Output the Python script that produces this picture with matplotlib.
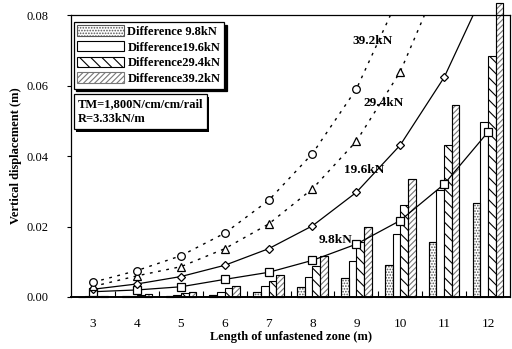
import numpy as np
import matplotlib
matplotlib.use("Agg")
import matplotlib.pyplot as plt
import matplotlib.patheffects as pe

plt.rcParams['font.family'] = ['Liberation Serif', 'DejaVu Serif']
plt.rcParams['hatch.linewidth'] = 0.8

# Datos
longitudes = [3, 4, 5, 6, 7, 8, 9, 10, 11, 12]
etiquetas_barras = ["Difference 9.8kN", "Difference19.6kN", "Difference29.4kN", "Difference39.2kN"]
dif_98 = [0.0001, 0.0002, 0.0003, 0.0006, 0.0015, 0.0029, 0.0053, 0.0091, 0.0157, 0.0267]
dif_196 = [0.0002, 0.0004, 0.0006, 0.0013, 0.0032, 0.0058, 0.0102, 0.0178, 0.0303, 0.0496]
dif_294 = [0.0003, 0.0006, 0.0010, 0.0025, 0.0046, 0.0088, 0.0157, 0.0262, 0.0431, 0.0684]
dif_392 = [0.0004, 0.0008, 0.0013, 0.0032, 0.0062, 0.0117, 0.0200, 0.0336, 0.0546, 0.0835]

# Curvas de desplazamiento (valores fuera del rango se recortan)
desp_98 = [0.0015, 0.0020, 0.0029, 0.0050, 0.0070, 0.0104, 0.0150, 0.0217, 0.0320, 0.0468]
desp_196 = [0.0022, 0.0037, 0.0058, 0.0090, 0.0137, 0.0202, 0.0297, 0.0431, 0.0623, 0.0890]
desp_294 = [0.0030, 0.0060, 0.0086, 0.0137, 0.0207, 0.0307, 0.0442, 0.0639, 0.0930]
desp_392 = [0.0042, 0.0075, 0.0117, 0.0181, 0.0274, 0.0407, 0.0590, 0.0860]

fig = plt.figure(figsize=(5.12, 3.49), dpi=100)
ax = fig.add_axes([0.139, 0.149, 0.857, 0.808])

x = np.array(longitudes)
w = 0.175
estilos = [
    dict(facecolor="white", edgecolor="#555555", hatch="......"),
    dict(facecolor="white", edgecolor="black", hatch=None),
    dict(facecolor="white", edgecolor="black", hatch="\\\\\\"),
    dict(facecolor="white", edgecolor="#777777", hatch="//////"),
]
series = [dif_98, dif_196, dif_294, dif_392]
barras = []
for i, (vals, est) in enumerate(zip(series, estilos)):
    b = ax.bar(x + (i - 1.5) * w, vals, w, linewidth=0.8, label=etiquetas_barras[i],
               zorder=2, **est)
    for r in b:
        r.set_clip_on(False)
    barras.append(b)

# Bordes negros para las barras con trama gris
for b in (barras[0], barras[3]):
    for r in b:
        ax.bar(r.get_x() + r.get_width() / 2, r.get_height(), r.get_width(),
               facecolor="none", edgecolor="black", linewidth=0.8, zorder=2.1,
               clip_on=False)

ax.plot(x, desp_98, "-", color="black", lw=0.9, marker="s", ms=5.5,
        mfc="white", mec="black", mew=0.9, zorder=4)
ax.plot(x, desp_196, "-", color="black", lw=0.9, marker="D", ms=4.5,
        mfc="white", mec="black", mew=0.9, zorder=4)
ax.plot(x[:len(desp_294)], desp_294, color="black", lw=1.0, ls=(0, (2, 4)),
        marker="^", ms=5.5, mfc="white", mec="black", mew=0.9, zorder=4)
ax.plot(x[:len(desp_392)], desp_392, color="black", lw=1.0, ls=(0, (2, 4)),
        marker="o", ms=5.5, mfc="white", mec="black", mew=0.9, zorder=4)

ax.text(9.36, 0.0727, "39.2kN", fontsize=9.5, fontweight="bold", ha="center", va="center")
ax.text(9.62, 0.0551, "29.4kN", fontsize=9.5, fontweight="bold", ha="center", va="center")
ax.text(9.17, 0.0360, "19.6kN", fontsize=9.5, fontweight="bold", ha="center", va="center")
ax.text(8.52, 0.0162, "9.8kN", fontsize=9.5, fontweight="bold", ha="center", va="center")

ax.set_xlim(2.5, 12.5)
ax.set_ylim(0, 0.08)
ax.set_yticks([0.0, 0.02, 0.04, 0.06, 0.08])
ax.set_yticklabels(["0.00", "0.02", "0.04", "0.06", "0.08"], fontsize=9)
ax.set_xticks(x)
ax.set_xticklabels([str(v) for v in longitudes], fontsize=9.5)
ax.tick_params(axis="x", length=0, pad=15)
ax.set_xticks(np.arange(3.5, 12.5, 1.0), minor=True)
ax.tick_params(axis="x", which="minor", direction="in", length=4, width=0.8)
ax.tick_params(axis="y", direction="out", length=3, width=0.8, pad=13)
for s in ax.spines.values():
    s.set_linewidth(0.9)
ax.spines["bottom"].set_linewidth(1.4)

ax.set_xlabel("Length of unfastened zone (m)", fontsize=9, fontweight="bold", labelpad=1)
ax.set_ylabel("Vertical displacement (m)", fontsize=9, fontweight="bold")
ax.yaxis.set_label_coords(-0.112, 0.5)

leg = ax.legend(loc="upper left", bbox_to_anchor=(0.0, 0.985),
                prop={"weight": "bold", "size": 9}, frameon=True, fancybox=False,
                shadow={"color": "black", "alpha": 1}, edgecolor="black",
                handlelength=3.7, handleheight=0.9, handletextpad=0.3,
                labelspacing=0.25, borderpad=0.3, borderaxespad=0.2)
leg.get_frame().set_linewidth(0.9)

caja = ax.text(0.014, 0.705, "TM=1,800N/cm/cm/rail\nR=3.33kN/m", transform=ax.transAxes,
               fontsize=9, fontweight="bold", va="top", ha="left", linespacing=1.35,
               bbox=dict(boxstyle="square,pad=0.3", facecolor="white", edgecolor="black",
                         linewidth=0.9), zorder=5)
caja.get_bbox_patch().set_path_effects([
    pe.SimplePatchShadow(offset=(2, -2), shadow_rgbFace="black", alpha=1), pe.Normal()])

fig.savefig("out.png", dpi=100)
